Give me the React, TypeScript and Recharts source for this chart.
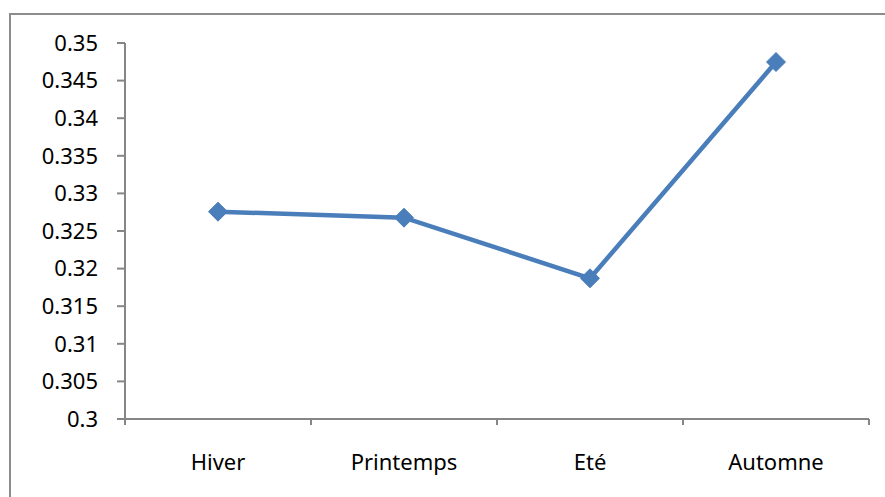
import React from "react";
import { LineChart, Line, XAxis, YAxis } from "recharts";

const categories = ["Hiver", "Printemps", "Eté", "Automne"];
const values = [0.32757, 0.32677, 0.31871, 0.34747];
const yTicks = [0.3, 0.305, 0.31, 0.315, 0.32, 0.325, 0.33, 0.335, 0.34, 0.345, 0.35];

const data = categories.map((c, i) => ({ name: c, value: values[i] }));

const AXIS = "#868686";
const BLUE = "#4A7EBB";
const FONT = "'Noto Sans', sans-serif";
const PLOT_W = 744;
const HALF_BAND = PLOT_W / categories.length / 2;

const Diamond = (props: any) => {
  const { cx, cy } = props;
  if (cx == null || cy == null) return null;
  const r = 9.5;
  return (
    <path
      d={`M${cx},${cy - r} L${cx + r},${cy} L${cx},${cy + r} L${cx - r},${cy} Z`}
      fill={BLUE}
      stroke={BLUE}
      strokeWidth={1}
    />
  );
};

const XTick = (props: any) => {
  const { x, y, payload, index } = props;
  const n = categories.length;
  const left = x - HALF_BAND;
  return (
    <g>
      <line x1={left} x2={left} y1={419} y2={425} stroke={AXIS} strokeWidth={2} />
      {index === n - 1 && (
        <line x1={x + HALF_BAND} x2={x + HALF_BAND} y1={419} y2={425} stroke={AXIS} strokeWidth={2} />
      )}
      <text
        x={x}
        y={454}
        dy="0.71em"
        textAnchor="middle"
        fill="#000"
        fontSize={22}
        fontFamily={FONT}
      >
        {payload.value}
      </text>
    </g>
  );
};

export default function App() {
  return (
    <div
      style={{
        position: "fixed",
        left: 0,
        top: 0,
        width: 885,
        height: 497,
        background: "#fff",
        overflow: "hidden",
      }}
    >
      <div
        style={{
          position: "absolute",
          left: 9,
          top: 13,
          width: 900,
          height: 520,
          border: "2px solid #8c8c8c",
          boxSizing: "border-box",
        }}
      />
      <div style={{ position: "absolute", left: 0, top: 0 }}>
        <LineChart
          width={885}
          height={497}
          data={data}
          margin={{ top: 43, right: 16, bottom: 0, left: 0 }}
        >
          <XAxis
            dataKey="name"
            height={78}
            stroke={AXIS}
            strokeWidth={2}
            tickLine={false}
            tick={<XTick />}
            interval={0}
            padding={{ left: HALF_BAND, right: HALF_BAND }}
          />
          <YAxis
            width={125}
            domain={[0.3, 0.35]}
            ticks={yTicks}
            type="number"
            allowDataOverflow
            stroke={AXIS}
            strokeWidth={2}
            tickSize={8}
            tickMargin={19}
            tick={{ fill: "#000", fontSize: 22, fontFamily: FONT }}
            tickFormatter={(v: number) => String(v)}
          />
          <Line
            dataKey="value"
            stroke={BLUE}
            strokeWidth={4.5}
            dot={<Diamond />}
            activeDot={false}
            isAnimationActive={false}
          />
        </LineChart>
      </div>
    </div>
  );
}
